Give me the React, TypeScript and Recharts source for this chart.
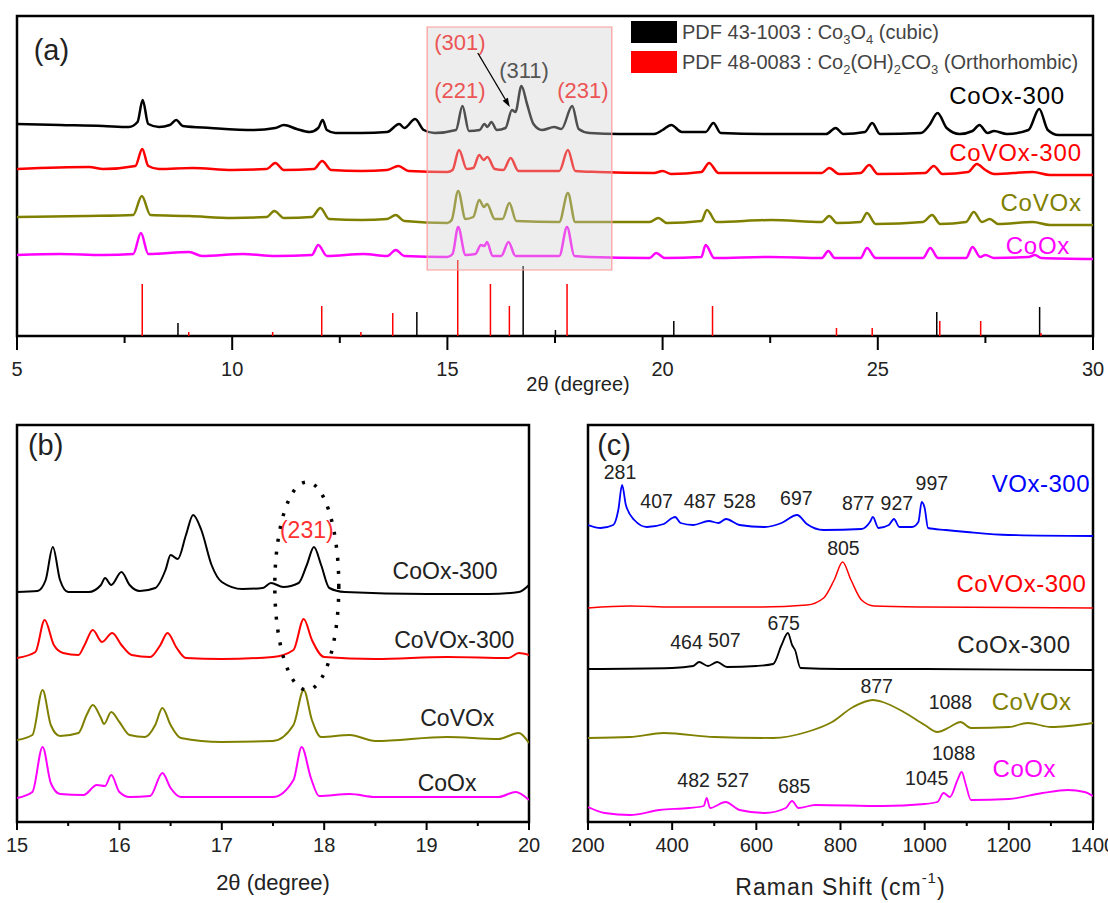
import React from 'react';
import {
  LineChart,
  Line,
  XAxis,
  YAxis,
  ReferenceArea,
  ReferenceLine,
  ReferenceDot,
  Legend,
} from 'recharts';

const FONT = '"Liberation Sans", Arial, Helvetica, sans-serif';

// ---------- (a) XRD, 2θ 5–30 (offset-stacked intensity, a.u.) ----------
const ticksA = [5, 7.5, 10, 12.5, 15, 17.5, 20, 22.5, 25, 27.5, 30];
const majorsA = [5, 10, 15, 20, 25, 30];

const xrdCoOx300 = [
  [5, 212], [6, 211], [7, 210], [7.6, 209], [7.8, 214], [7.92, 236], [8.05, 212], [8.3, 209], [8.55, 211],
  [8.7, 216], [8.85, 210], [9.5, 208], [10.5, 206], [11, 208], [11.2, 211], [11.5, 207], [11.8, 204],
  [12, 208], [12.1, 216], [12.2, 206], [12.4, 203], [13, 203], [13.6, 204], [13.88, 212], [14, 208],
  [14.25, 217], [14.45, 206], [14.7, 203], [15.2, 206], [15.35, 230], [15.5, 205], [15.75, 206],
  [15.86, 212], [15.93, 209], [16.02, 214], [16.15, 206], [16.35, 208], [16.5, 226], [16.58, 224],
  [16.72, 250], [16.85, 232], [17, 212], [17.2, 206], [17.48, 209], [17.65, 207], [17.9, 230],
  [18.05, 207], [18.3, 203], [19, 202], [19.8, 202], [20, 206], [20.2, 211], [20.45, 204], [21, 204],
  [21.18, 213], [21.35, 203], [22.5, 202], [23.8, 202], [24.02, 208], [24.2, 202], [24.7, 204],
  [24.87, 213], [25.05, 202], [26, 203], [26.2, 211], [26.39, 223], [26.6, 208], [26.9, 202],
  [27.2, 205], [27.36, 211], [27.55, 203], [27.7, 205], [28, 202], [28.5, 206], [28.75, 227],
  [28.95, 206], [29.2, 201], [30, 201],
];
const xrdCoVOx300 = [
  [5, 167], [6.68, 169], [7, 167], [7.75, 170], [7.91, 187], [8.05, 170], [8.3, 167], [9.08, 168],
  [10, 166], [10.8, 167], [11, 173], [11.2, 166], [11.9, 167], [12.09, 175], [12.3, 166], [13, 165],
  [13.6, 166], [13.86, 170], [14.1, 165], [15, 164], [15.12, 166], [15.27, 186], [15.45, 167],
  [15.6, 168], [15.74, 181], [15.84, 176], [15.93, 179], [16.1, 167], [16.3, 166], [16.47, 178],
  [16.65, 165], [17.6, 165], [17.8, 186], [17.97, 165], [18.5, 164], [19.8, 163], [20, 165],
  [20.2, 162], [20.9, 164], [21.08, 173], [21.3, 163], [23.7, 163], [23.87, 168], [24.1, 162],
  [24.6, 163], [24.8, 171], [25, 162], [26.1, 163], [26.3, 170], [26.5, 162], [27.1, 164],
  [27.3, 172], [27.5, 166], [27.7, 162], [28.6, 164], [29, 161], [30, 161],
];
const xrdCoVOx = [
  [5, 119], [6.6, 120], [7.7, 121], [7.9, 140], [8.1, 121], [9, 120], [10, 118], [10.8, 119],
  [10.98, 125], [11.2, 118], [11.85, 119], [12.05, 128], [12.25, 117], [13, 116], [13.6, 117],
  [13.8, 121], [14, 115], [15, 113], [15.1, 116], [15.25, 145], [15.42, 117], [15.6, 119],
  [15.74, 136], [15.85, 129], [15.92, 132], [16.1, 117], [16.28, 117], [16.44, 133], [16.6, 115],
  [17.6, 114], [17.8, 143], [17.97, 114], [19.7, 114], [19.9, 118], [20.1, 113], [20.9, 115],
  [21.03, 126], [21.25, 114], [22.53, 116], [23.7, 114], [23.87, 120], [24.05, 113], [24.6, 114],
  [24.75, 123], [24.95, 112], [26.05, 114], [26.26, 121], [26.45, 112], [27.05, 114], [27.23, 124],
  [27.42, 114], [27.6, 117], [27.8, 112], [28.6, 114], [29, 111], [30, 111],
];
const xrdCoOx = [
  [5, 81], [6, 82], [7, 81], [7.7, 82], [7.88, 103], [8.05, 82], [9, 84], [9.3, 80], [10.25, 82],
  [11, 80], [11.85, 81], [12, 91], [12.2, 80], [13.05, 82], [13.6, 80], [13.8, 86], [14, 80],
  [15, 79], [15.12, 82], [15.25, 109], [15.42, 81], [15.65, 82], [15.78, 91], [15.86, 90],
  [15.92, 94], [16.05, 80], [16.25, 80], [16.42, 94], [16.58, 80], [17.6, 80], [17.78, 109],
  [17.95, 80], [18.3, 79], [19.7, 78], [19.85, 83], [20.05, 78], [20.9, 79], [21, 91], [21.2, 78],
  [22.5, 79], [23.7, 78], [23.85, 85], [24, 78], [24.6, 78], [24.75, 88], [24.95, 78], [26.05, 78],
  [26.22, 88], [26.4, 78], [27.05, 78], [27.2, 89], [27.38, 79], [27.5, 81], [27.7, 78], [28.5, 79],
  [28.65, 81], [28.8, 78], [30, 77],
];
// reference patterns: [2θ, relative height]
const pdfCo3O4 = [[8.74, 13], [14.29, 24], [16.76, 70], [17.51, 6], [20.26, 15], [26.37, 24], [28.76, 29]];
const pdfCo2OH2CO3 = [
  [7.91, 52], [8.99, 4], [10.94, 4], [12.08, 30], [12.99, 4], [13.73, 23], [15.24, 76], [16.0, 52],
  [16.44, 30], [17.78, 52], [21.16, 30], [24.04, 8], [24.87, 8], [26.44, 15], [27.39, 15], [28.79, 3],
];

// ---------- (b) XRD zoom 15–20 ----------
const ticksB = [15, 15.5, 16, 16.5, 17, 17.5, 18, 18.5, 19, 19.5, 20];
const majorsB = [15, 16, 17, 18, 19, 20];
const zoomCoOx300 = [
  [15, 230], [15.2, 231], [15.28, 242], [15.35, 275], [15.42, 242], [15.5, 230], [15.7, 230],
  [15.82, 237], [15.86, 244], [15.92, 237], [16.02, 250], [16.1, 237], [16.2, 231], [16.35, 234],
  [16.45, 252], [16.5, 267], [16.57, 263], [16.65, 287], [16.72, 307], [16.8, 292], [16.9, 257],
  [17, 240], [17.2, 233], [17.4, 234], [17.48, 239], [17.6, 235], [17.75, 239], [17.83, 257],
  [17.9, 275], [17.97, 257], [18.05, 234], [18.2, 230], [19, 228], [19.6, 228], [19.9, 230], [20, 237],
];
const zoomCoVOx300 = [
  [15, 164], [15.18, 170], [15.27, 202], [15.36, 177], [15.45, 169], [15.6, 167], [15.66, 177],
  [15.74, 192], [15.83, 180], [15.93, 189], [16.02, 177], [16.12, 167], [16.3, 165], [16.4, 177],
  [16.47, 189], [16.56, 174], [16.65, 164], [17, 163], [17.5, 165], [17.7, 172], [17.8, 203],
  [17.88, 182], [18, 165], [18.5, 163], [19.2, 165], [19.8, 164], [19.9, 169], [20, 167],
];
const zoomCoVOx = [
  [15, 82], [15.15, 87], [15.25, 132], [15.33, 97], [15.42, 86], [15.6, 89], [15.68, 107],
  [15.74, 117], [15.82, 104], [15.85, 98], [15.92, 110], [16, 100], [16.1, 87], [16.25, 85],
  [16.35, 97], [16.42, 114], [16.5, 97], [16.6, 84], [17, 80], [17.5, 81], [17.7, 97], [17.8, 132],
  [17.88, 102], [17.97, 85], [18.25, 87], [18.5, 81], [19.2, 85], [19.7, 83], [19.9, 89], [20, 79],
];
const zoomCoOx = [
  [15, 24], [15.15, 30], [15.25, 75], [15.33, 39], [15.42, 28], [15.65, 27], [15.78, 37], [15.86, 36],
  [15.92, 47], [16, 30], [16.1, 25], [16.3, 26], [16.42, 49], [16.5, 34], [16.6, 25], [17.5, 25],
  [17.7, 42], [17.78, 75], [17.87, 44], [17.95, 26], [18.25, 28], [18.5, 25], [19.7, 25], [19.87, 30],
  [20, 22],
];

// ---------- (c) Raman 200–1400 cm-1 ----------
const ticksC = [200, 300, 400, 500, 600, 700, 800, 900, 1000, 1100, 1200, 1300, 1400];
const majorsC = [200, 400, 600, 800, 1000, 1200, 1400];
const ramanVOx300 = [
  [200, 297], [230, 294], [260, 297], [272, 312], [281, 337], [290, 317], [310, 302], [340, 295],
  [380, 298], [400, 304], [407, 305], [420, 299], [450, 297], [487, 301], [510, 299], [528, 303],
  [560, 297], [620, 295], [660, 299], [697, 307], [720, 298], [760, 292], [850, 293], [870, 300],
  [877, 305], [890, 294], [915, 297], [927, 303], [940, 295], [970, 295], [985, 300], [993, 320],
  [1000, 314], [1008, 294], [1050, 292], [1100, 290], [1200, 287], [1400, 286],
];
const ramanCoVOx300 = [
  [200, 214], [300, 216], [400, 215], [600, 215], [720, 217], [760, 224], [785, 242], [805, 260],
  [825, 242], [850, 222], [880, 216], [1000, 215], [1400, 214],
];
const ramanCoOx300 = [
  [200, 153], [400, 154], [450, 156], [464, 160], [485, 156], [507, 160], [530, 155], [600, 156],
  [640, 158], [660, 177], [675, 189], [685, 177], [692, 172], [705, 154], [800, 153], [1000, 153],
  [1400, 152],
];
const ramanCoVOx = [
  [200, 84], [300, 85], [380, 89], [500, 85], [640, 84], [720, 90], [780, 100], [830, 115], [877, 122],
  [900, 120], [950, 110], [1000, 97], [1030, 90], [1060, 95], [1085, 100], [1110, 94], [1200, 95],
  [1245, 99], [1300, 95], [1400, 99],
];
const ramanCoOx = [
  [200, 15], [240, 9], [300, 7], [370, 12], [440, 14], [475, 16], [482, 24], [490, 14], [527, 20],
  [560, 12], [620, 9], [670, 14], [685, 21], [700, 14], [740, 17], [900, 16], [1000, 18], [1030, 20],
  [1045, 29], [1060, 25], [1078, 42], [1088, 50], [1098, 37], [1110, 22], [1200, 23], [1280, 29],
  [1340, 32], [1380, 30], [1400, 26],
];
// peak labels: [text, x, y]
const ramanPeakLabels: [string, number, number][] = [
  ['281', 276, 350], ['407', 363, 321], ['487', 466, 321], ['528', 560, 321], ['697', 695, 324],
  ['877', 842, 319], ['927', 934, 319], ['997', 1017, 339], ['805', 807, 274], ['675', 665, 199],
  ['464', 434, 180], ['507', 524, 182], ['877', 886, 136], ['1088', 1061, 120], ['1088', 1069, 69],
  ['1045', 1005, 44], ['482', 451, 42], ['527', 544, 42], ['685', 690, 36],
];

const toPts = (a: number[][]) => a.map(([x, y]) => ({ x, y }));

const text =
  (s: React.ReactNode, color: string, size: number, anchor: 'start' | 'middle' | 'end' = 'middle', spacing = 0) =>
  (p: any) => (
    <text
      x={p.cx} y={p.cy} fill={color} fontSize={size} fontFamily={FONT} textAnchor={anchor}
      dominantBaseline="central" letterSpacing={spacing}
    >
      {s}
    </text>
  );

function axisTick(majors: number[], majorLen: number, minorLen: number, labelDy: number) {
  return (props: any) => {
    const { x, y, payload } = props;
    const major = majors.includes(payload.value);
    return (
      <g>
        <line x1={x} x2={x} y1={y} y2={y + (major ? majorLen : minorLen)} stroke="#000" strokeWidth={2} />
        {major && (
          <text x={x} y={y + labelDy} textAnchor="middle" dominantBaseline="central" fontSize={20} fill="#222" fontFamily={FONT}>
            {payload.value}
          </text>
        )}
      </g>
    );
  };
}

const axisTitle = (content: React.ReactNode, dy: number, size: number, dx = 0, spacing = 0) => (p: any) => {
  const vb = p.viewBox;
  return (
    <text
      x={vb.x + vb.width / 2 + dx} y={vb.y + dy} textAnchor="middle" dominantBaseline="central"
      fontSize={size} fill="#222" fontFamily={FONT} letterSpacing={spacing}
    >
      {content}
    </text>
  );
};

const Arrow = (p: any) => {
  const dx = 32, dy = 54, len = Math.hypot(dx, dy);
  const ux = dx / len, uy = dy / len;
  const bx = p.cx - ux * 9, by = p.cy - uy * 9;
  return (
    <g>
      <line x1={p.cx - dx} y1={p.cy - dy} x2={bx} y2={by} stroke="#000" strokeWidth={1.3} />
      <polygon points={`${p.cx},${p.cy} ${bx - uy * 3},${by + ux * 3} ${bx + uy * 3},${by - ux * 3}`} fill="#000" />
    </g>
  );
};

const Ellipse = (p: any) => (
  <ellipse cx={p.cx} cy={p.cy} rx={32} ry={104} fill="none" stroke="#000" strokeWidth={3.5} strokeDasharray="3 10" />
);

const sub = (s: string) => <sub style={{ fontSize: 13, lineHeight: 0 }}>{s}</sub>;

const LegendBox = () => (
  <div style={{ fontFamily: FONT, fontSize: 20, color: '#444', lineHeight: '30px' }}>
    {[
      ['#000', <>PDF 43-1003 : Co{sub('3')}O{sub('4')} (cubic)</>],
      ['#ff0000', <>PDF 48-0083 : Co{sub('2')}(OH){sub('2')}CO{sub('3')} (Orthorhombic)</>],
    ].map(([c, t], i) => (
      <div key={i} style={{ display: 'flex', alignItems: 'center', whiteSpace: 'nowrap' }}>
        <span style={{ display: 'inline-block', width: 46, height: 22, background: c as string, marginRight: 5 }} />
        <span>{t}</span>
      </div>
    ))}
  </div>
);

const frame = (x1: number, x2: number, y1: number, y2: number) => (
  <ReferenceArea x1={x1} x2={x2} y1={y1} y2={y2} fill="none" stroke="#000" strokeWidth={2.5} ifOverflow="visible" />
);

export default function App() {
  return (
    <div style={{ position: 'relative', width: 1108, height: 903, background: '#fff', overflow: 'hidden' }}>
      <style>{'body{margin:0}'}</style>

      {/* (a) */}
      <div style={{ position: 'absolute', left: 0, top: 0 }}>
        <LineChart width={1108} height={410} margin={{ top: 16, right: 15, bottom: 10, left: 17 }}>
          <XAxis
            type="number" dataKey="x" domain={[5, 30]} ticks={ticksA} interval={0} allowDataOverflow
            axisLine={false} tickLine={false} tickSize={0} tickMargin={0} height={64}
            tick={axisTick(majorsA, 14, 7, 33)}
            label={axisTitle(<>2θ (degree)</>, 48, 20, 23)}
          />
          <YAxis hide type="number" domain={[0, 320]} allowDataOverflow />
          <Legend layout="vertical" align="center" verticalAlign="middle" wrapperStyle={{ left: 631, top: 17 }} content={() => <LegendBox />} />
          {pdfCo3O4.map(([x, h], i) => (
            <ReferenceLine key={'k' + i} segment={[{ x, y: 0 }, { x, y: h }]} stroke="#000" strokeWidth={1.5} />
          ))}
          {pdfCo2OH2CO3.map(([x, h], i) => (
            <ReferenceLine key={'r' + i} segment={[{ x, y: 0 }, { x, y: h }]} stroke="#ff0000" strokeWidth={1.5} />
          ))}
          <Line type="monotone" data={toPts(xrdCoOx300)} dataKey="y" stroke="#000" strokeWidth={2.5} dot={false} isAnimationActive={false} />
          <Line type="monotone" data={toPts(xrdCoVOx300)} dataKey="y" stroke="#ff0000" strokeWidth={2.5} dot={false} isAnimationActive={false} />
          <Line type="monotone" data={toPts(xrdCoVOx)} dataKey="y" stroke="#808000" strokeWidth={2.5} dot={false} isAnimationActive={false} />
          <Line type="monotone" data={toPts(xrdCoOx)} dataKey="y" stroke="#ff00ff" strokeWidth={2.5} dot={false} isAnimationActive={false} />
          <ReferenceArea
            x1={14.53} x2={18.82} y1={66} y2={309} fill="#cfcfcf" fillOpacity={0.38}
            stroke="#ff9a9a" strokeWidth={1.2} ifOverflow="visible" {...({ zIndex: 450 } as any)}
          />
          <ReferenceDot x={15.29} y={294} r={0} shape={text('(301)', '#eb5555', 22)} />
          <ReferenceDot x={16.78} y={266} r={0} shape={text('(311)', '#555', 22)} />
          <ReferenceDot x={15.29} y={246} r={0} shape={text('(221)', '#eb5555', 22)} />
          <ReferenceDot x={18.15} y={246} r={0} shape={text('(231)', '#eb5555', 22)} />
          <ReferenceDot x={16.45} y={229} r={0} shape={Arrow} />
          <ReferenceDot x={29.35} y={241} r={0} shape={text('CoOx-300', '#000', 24, 'end', 0.8)} />
          <ReferenceDot x={29.74} y={184} r={0} shape={text('CoVOx-300', '#ff0000', 24, 'end', 0.8)} />
          <ReferenceDot x={29.74} y={134} r={0} shape={text('CoVOx', '#808000', 24, 'end', 0.8)} />
          <ReferenceDot x={29.47} y={91} r={0} shape={text('CoOx', '#ff00ff', 24, 'end', 0.8)} />
          <ReferenceDot x={5.8} y={286} r={0} shape={text('(a)', '#222', 29)} />
          {frame(5, 30, 0, 320)}
        </LineChart>
      </div>

      {/* (b) */}
      <div style={{ position: 'absolute', left: 0, top: 410 }}>
        <LineChart width={560} height={493} margin={{ top: 15, right: 31, bottom: 11, left: 17 }}>
          <XAxis
            type="number" dataKey="x" domain={[15, 20]} ticks={ticksB} interval={0} allowDataOverflow
            axisLine={false} tickLine={false} tickSize={0} tickMargin={0} height={70}
            tick={axisTick(majorsB, 8, 4, 23)}
            label={axisTitle(<>2θ (degree)</>, 60, 22)}
          />
          <YAxis hide type="number" domain={[0, 397]} allowDataOverflow />
          <Line type="monotone" data={toPts(zoomCoOx300)} dataKey="y" stroke="#000" strokeWidth={2} dot={false} isAnimationActive={false} />
          <Line type="monotone" data={toPts(zoomCoVOx300)} dataKey="y" stroke="#ff0000" strokeWidth={2} dot={false} isAnimationActive={false} />
          <Line type="monotone" data={toPts(zoomCoVOx)} dataKey="y" stroke="#808000" strokeWidth={2} dot={false} isAnimationActive={false} />
          <Line type="monotone" data={toPts(zoomCoOx)} dataKey="y" stroke="#ff00ff" strokeWidth={2} dot={false} isAnimationActive={false} />
          <ReferenceDot x={17.83} y={236} r={0} shape={Ellipse} />
          <ReferenceDot x={17.83} y={292} r={0} shape={text('(231)', '#ff3030', 23)} />
          <ReferenceDot x={19.18} y={251} r={0} shape={text('CoOx-300', '#222', 23)} />
          <ReferenceDot x={19.27} y={182} r={0} shape={text('CoVOx-300', '#222', 23)} />
          <ReferenceDot x={19.3} y={104} r={0} shape={text('CoVOx', '#222', 23)} />
          <ReferenceDot x={19.2} y={39} r={0} shape={text('CoOx', '#222', 23)} />
          <ReferenceDot x={15.28} y={377} r={0} shape={text('(b)', '#222', 29)} />
          {frame(15, 20, 0, 397)}
        </LineChart>
      </div>

      {/* (c) */}
      <div style={{ position: 'absolute', left: 560, top: 410 }}>
        <LineChart width={548} height={493} margin={{ top: 15, right: 15, bottom: 11, left: 28 }}>
          <XAxis
            type="number" dataKey="x" domain={[200, 1400]} ticks={ticksC} interval={0} allowDataOverflow
            axisLine={false} tickLine={false} tickSize={0} tickMargin={0} height={70}
            tick={axisTick(majorsC, 8, 4, 23)}
            label={axisTitle(<>Raman Shift (cm<tspan dy={-10} fontSize={15}>-1</tspan><tspan dy={10}>)</tspan></>, 65, 23, 0, 1)}
          />
          <YAxis hide type="number" domain={[0, 397]} allowDataOverflow />
          <Line type="monotone" data={toPts(ramanVOx300)} dataKey="y" stroke="#0000ff" strokeWidth={1.8} dot={false} isAnimationActive={false} />
          <Line type="monotone" data={toPts(ramanCoVOx300)} dataKey="y" stroke="#ff0000" strokeWidth={1.5} dot={false} isAnimationActive={false} />
          <Line type="monotone" data={toPts(ramanCoOx300)} dataKey="y" stroke="#000" strokeWidth={1.8} dot={false} isAnimationActive={false} />
          <Line type="monotone" data={toPts(ramanCoVOx)} dataKey="y" stroke="#808000" strokeWidth={1.8} dot={false} isAnimationActive={false} />
          <Line type="monotone" data={toPts(ramanCoOx)} dataKey="y" stroke="#ff00ff" strokeWidth={1.8} dot={false} isAnimationActive={false} />
          {ramanPeakLabels.map(([t, x, y], i) => (
            <ReferenceDot key={i} x={x} y={y} r={0} shape={text(t, '#222', 19.5)} />
          ))}
          <ReferenceDot x={1393} y={339} r={0} shape={text('VOx-300', '#0000ff', 24, 'end', 0.5)} />
          <ReferenceDot x={1384} y={239} r={0} shape={text('CoVOx-300', '#ff0000', 24, 'end', 0.5)} />
          <ReferenceDot x={1347} y={178} r={0} shape={text('CoOx-300', '#222', 24, 'end', 0.5)} />
          <ReferenceDot x={1349} y={121} r={0} shape={text('CoVOx', '#808000', 24, 'end', 0.5)} />
          <ReferenceDot x={1312} y={54} r={0} shape={text('CoOx', '#ff00ff', 24, 'end', 0.5)} />
          <ReferenceDot x={262} y={377} r={0} shape={text('(c)', '#222', 29)} />
          {frame(200, 1400, 0, 397)}
        </LineChart>
      </div>
    </div>
  );
}
